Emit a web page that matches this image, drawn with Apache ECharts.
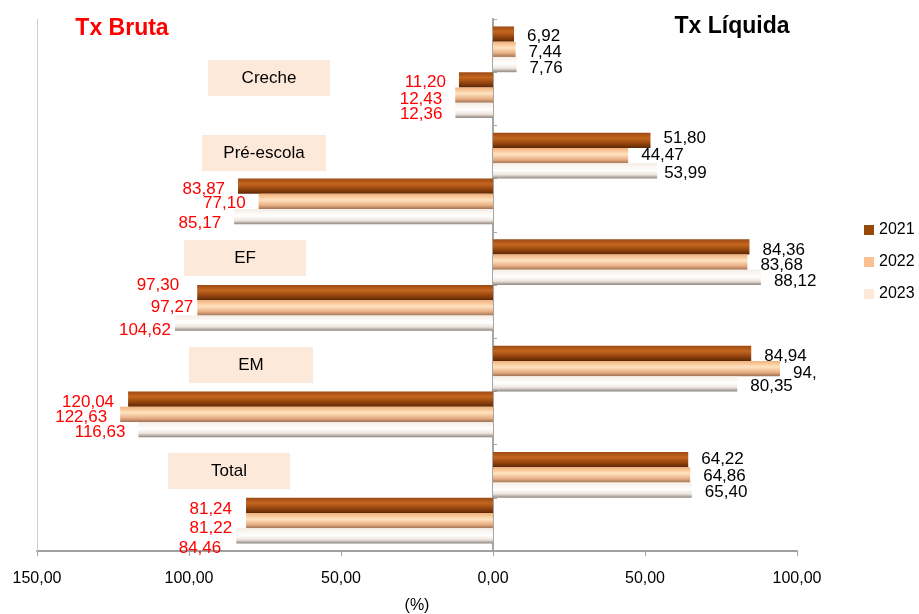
<!DOCTYPE html>
<html>
<head>
<meta charset="utf-8">
<script src="https://cdn.jsdelivr.net/npm/echarts@6/dist/echarts.min.js"></script>
<style>html,body{margin:0;padding:0;background:#fff}#c{width:919px;height:614px}</style>
</head>
<body>
<div id="c"></div>
<script>
// ---- data ----
const categories = ['Creche', 'Pré-escola', 'EF', 'EM', 'Total'];
const years = ['2021', '2022', '2023'];
const liquida2021 = [6.92, 51.80, 84.36, 84.94, 64.22];
const liquida2022 = [7.44, 44.47, 83.68, 94.40, 64.86];
const liquida2023 = [7.76, 53.99, 88.12, 80.35, 65.40];
const bruta2021 = [11.20, 83.87, 97.30, 120.04, 81.24];
const bruta2022 = [12.43, 77.10, 97.27, 122.63, 81.22];
const bruta2023 = [12.36, 85.17, 104.62, 116.63, 84.46];
const xTicks = [-150, -100, -50, 0, 50, 100];
// label text shown truncated in the original
const labelOverride = { 'L2022-3': '94,' };

// ---- label nudges (layout only) ----
const liqOffsets = [
  [[0,2],[0,-2],[0,3],[0,3],[0,0]],
  [[0,3],[0,0],[0,3],[0,5],[0,1]],
  [[0,4],[-6,2],[0,4],[0,3],[0,2]]
];
const bruOffsets = [
  [[0,2],[0,3],[-5,-7],[-1,3],[-1,4]],
  [[0,4],[0,2],[9,-1],[0,3],[-1,8]],
  [[0,4],[0,7],[9,7],[0,3],[-2,12]]
];

const FONT = '"Liberation Sans", Arial, sans-serif';
const fmt = v => Math.abs(v).toFixed(2).replace('.', ',');

const gradients = [
  new echarts.graphic.LinearGradient(0,0,0,1,[
    {offset:0,color:'#9c4a14'},{offset:0.35,color:'#c4661f'},{offset:0.7,color:'#94440e'},{offset:1,color:'#5a2706'}]),
  new echarts.graphic.LinearGradient(0,0,0,1,[
    {offset:0,color:'#f2b07a'},{offset:0.4,color:'#ffe3c0'},{offset:0.75,color:'#e8ae84'},{offset:1,color:'#a07254'}]),
  new echarts.graphic.LinearGradient(0,0,0,1,[
    {offset:0,color:'#f5ede5'},{offset:0.45,color:'#ffffff'},{offset:0.75,color:'#ede5dd'},{offset:1,color:'#8e867e'}])
];
const legendColors = ['#984807', '#FAC090', '#FDE9D9'];

const liq = [liquida2021, liquida2022, liquida2023];
const bru = [bruta2021, bruta2022, bruta2023];

const series = [];
years.forEach((y, i) => {
  series.push({
    name: y, type: 'bar',
    data: liq[i].map((v, k) => ({ value: v, label: { offset: liqOffsets[i][k] } })),
    itemStyle: { color: gradients[i] },
    label: {
      show: true, position: 'right', distance: 13, color: '#000', fontSize: 17, fontFamily: FONT,
      formatter: p => labelOverride['L' + y + '-' + p.dataIndex] || fmt(p.value)
    }
  });
});
years.forEach((y, i) => {
  series.push({
    name: y, type: 'bar',
    data: bru[i].map((v, k) => ({ value: -v, label: { offset: bruOffsets[i][k] } })),
    itemStyle: { color: gradients[i] },
    label: {
      show: true, position: 'left', distance: 13, color: '#ff0000', fontSize: 17, fontFamily: FONT,
      formatter: p => fmt(p.value)
    }
  });
});
series[0].markLine = {
  silent: true, symbol: 'none', label: { show: false },
  lineStyle: { color: '#d0d0d0', type: 'solid', width: 1 },
  data: [{ xAxis: xTicks[0] }]
};
series[0].barGap = '0%';
series[0].barCategoryGap = '14%';

const boxes = [
  { name: categories[0], x: 208, y: 60, w: 122 },
  { name: categories[1], x: 202, y: 135, w: 124 },
  { name: categories[2], x: 184, y: 240, w: 122 },
  { name: categories[3], x: 189, y: 347, w: 124 },
  { name: categories[4], x: 168, y: 453, w: 122 }
];
const graphics = [];
boxes.forEach(b => {
  graphics.push({ type: 'rect', shape: { x: b.x, y: b.y, width: b.w, height: 36 }, style: { fill: '#FDE9D9' }, z: 1 });
  graphics.push({ type: 'text', z: 2, style: { text: b.name, x: b.x + b.w / 2, y: b.y + 18, align: 'center', verticalAlign: 'middle', font: '17px ' + FONT, fill: '#000' } });
});
graphics.push({ type: 'text', z: 2, style: { text: 'Tx Bruta', x: 122, y: 29, align: 'center', verticalAlign: 'middle', font: 'bold 23px ' + FONT, fill: '#ff0000' } });
graphics.push({ type: 'text', z: 2, style: { text: 'Tx Líquida', x: 732, y: 27, align: 'center', verticalAlign: 'middle', font: 'bold 23px ' + FONT, fill: '#000' } });

const chart = echarts.init(document.getElementById('c'), null, { renderer: 'canvas' });
chart.setOption({
  animation: false,
  backgroundColor: '#fff',
  grid: { left: 37, right: 122, top: 19, bottom: 63, outerBoundsMode: 'none', containLabel: false },
  legend: {
    orient: 'vertical', left: 864, top: 222, padding: 0, itemWidth: 10, itemHeight: 10, itemGap: 16,
    icon: 'rect',
    textStyle: { fontSize: 16, fontFamily: FONT, color: '#000' },
    data: years.map((y, i) => ({ name: y, itemStyle: { color: legendColors[i] } }))
  },
  xAxis: [
    {
      type: 'value', min: xTicks[0], max: xTicks[xTicks.length - 1], interval: 50,
      splitLine: { show: false },
      axisLine: { show: true, lineStyle: { color: '#a0a0a0', width: 2 } },
      axisTick: { show: true, length: 5, lineStyle: { color: '#a0a0a0' } },
      axisLabel: { fontSize: 16, fontFamily: FONT, color: '#000', margin: 20, formatter: v => fmt(v) },
      name: '(%)', nameLocation: 'middle', nameGap: 47,
      nameTextStyle: { fontSize: 16, fontFamily: FONT, color: '#000' }
    },
    {
      type: 'value', min: xTicks[0], max: xTicks[xTicks.length - 1], interval: 50, show: false
    }
  ],
  yAxis: [
    {
      type: 'category', data: categories, inverse: true,
      axisLine: { show: true, onZero: true, lineStyle: { color: '#a6a6a6', width: 2 } },
      axisTick: { show: true, inside: true, length: 4, lineStyle: { color: '#a6a6a6' } },
      axisLabel: { show: false }, splitLine: { show: false }
    },
    {
      type: 'category', data: categories, inverse: true, position: 'left',
      axisLine: { show: true, onZero: true, onZeroAxisIndex: 1, lineStyle: { color: '#a6a6a6', width: 2 } },
      axisTick: { show: true, inside: true, alignWithLabel: true, length: 4, lineStyle: { color: '#a6a6a6' } },
      axisLabel: { show: false }, splitLine: { show: false }
    }
  ],
  series: series,
  graphic: graphics
});
</script>
</body>
</html>
